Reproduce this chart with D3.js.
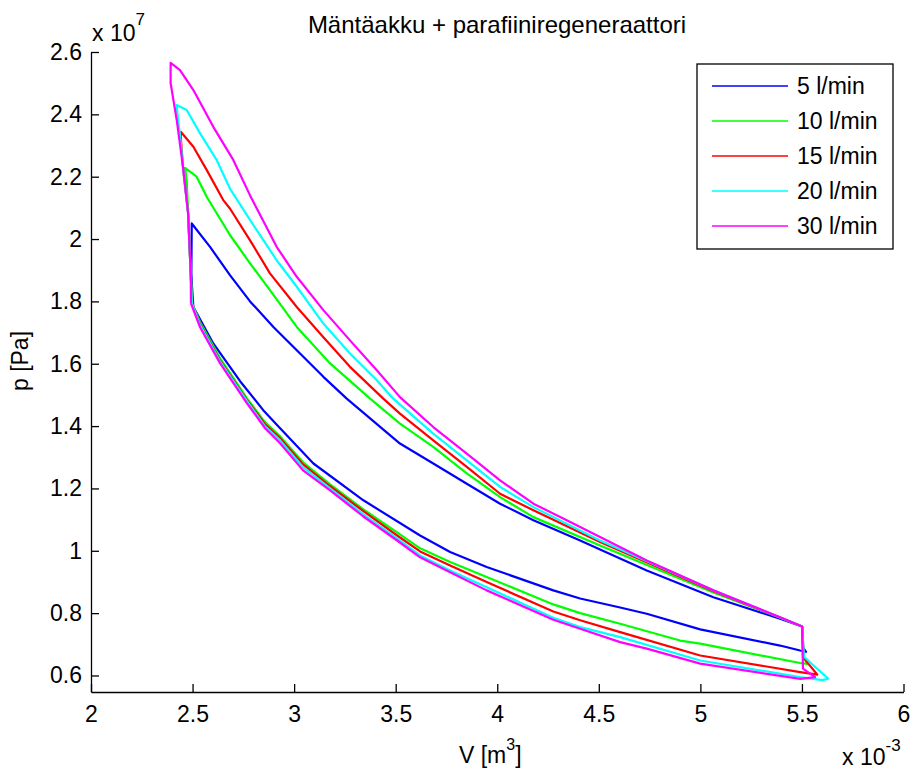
<!DOCTYPE html>
<html lang="fi">
<head>
<meta charset="UTF-8">
<title>Mäntäakku + parafiiniregeneraattori</title>
<script src="https://d3js.org/d3.v7.min.js"></script>
<style>
    body { margin: 0; background: #fff; }
    svg { display: block; font-family: "Liberation Sans", Arial, Helvetica, sans-serif; }
    .axis path, .axis line { stroke: #000; stroke-width: 1.3px; }
    .axis text { font-size: 23px; fill: #000; }
</style>
</head>
<body>
<div id="chart"></div>
<script>

// V [x 10^-3 m^3], p [x 10^7 Pa], each loop
var flow5 = [[2.504,1.782],[2.497,1.85],[2.494,1.890],[2.496,2.050],
    [2.586,1.975],[2.684,1.884],[2.783,1.800],[2.898,1.718],[3.013,1.643],[3.144,1.558],[3.259,1.488],[3.521,1.344],
    [3.685,1.280],[3.850,1.215],[4.014,1.151],[4.178,1.098],[4.408,1.033],[4.506,1.004],[4.736,0.937],[5.064,0.851],
    [5.392,0.782],[5.501,0.757],[5.505,0.690],[5.520,0.676],
    [5.491,0.680],[5.392,0.696],[4.999,0.748],[4.736,0.798],[4.605,0.818],[4.408,0.847],[4.276,0.873],[3.948,0.948],
    [3.768,0.996],[3.620,1.049],[3.341,1.162],[3.095,1.280],[2.931,1.393],[2.848,1.451],[2.734,1.544],[2.602,1.665],[2.504,1.782]];

var flow10 = [[2.497,1.794],[2.491,1.890],[2.478,2.083],[2.471,2.189],[2.463,2.228],
    [2.520,2.200],[2.570,2.135],[2.684,2.013],[2.783,1.922],[2.881,1.836],[3.013,1.718],[3.177,1.601],[3.374,1.488],
    [3.521,1.408],[3.685,1.333],[3.850,1.248],[4.014,1.172],[4.178,1.108],[4.506,1.017],[5.064,0.866],[5.392,0.786],[5.501,0.757],
    [5.505,0.660],[5.530,0.637],
    [5.491,0.640],[4.999,0.702],[4.900,0.712],[4.605,0.766],[4.408,0.800],[4.276,0.828],[3.948,0.916],[3.768,0.964],
    [3.620,1.008],[3.507,1.059],[3.341,1.133],[3.177,1.213],[3.044,1.284],[2.931,1.367],[2.857,1.412],[2.768,1.489],
    [2.635,1.618],[2.537,1.733],[2.497,1.794]];

var flow15 = [[2.497,1.794],[2.491,1.890],[2.478,2.083],[2.453,2.231],[2.443,2.317],[2.442,2.344],
    [2.504,2.296],[2.570,2.221],[2.651,2.125],[2.684,2.098],[2.783,1.996],[2.881,1.890],[3.013,1.782],[3.144,1.685],
    [3.275,1.590],[3.439,1.488],[3.521,1.440],[3.685,1.354],[3.850,1.269],[4.014,1.183],[4.178,1.130],[4.506,1.028],
    [5.064,0.870],[5.392,0.786],[5.501,0.757],
    [5.510,0.655],[5.575,0.603],
    [5.491,0.611],[4.999,0.664],[4.605,0.739],[4.408,0.777],[4.276,0.805],[3.948,0.900],[3.768,0.953],[3.620,0.998],
    [3.507,1.049],[3.341,1.127],[3.177,1.207],[3.044,1.277],[2.931,1.361],[2.857,1.406],[2.768,1.483],[2.635,1.611],
    [2.537,1.727],[2.497,1.794]];

var flow20 = [[2.497,1.794],[2.491,1.890],[2.478,2.083],[2.453,2.231],[2.438,2.334],[2.426,2.398],[2.422,2.430],
    [2.471,2.414],[2.537,2.339],[2.619,2.253],[2.684,2.162],[2.783,2.061],[2.914,1.932],[3.013,1.847],[3.144,1.729],
    [3.275,1.633],[3.407,1.547],[3.488,1.488],[3.685,1.376],[3.850,1.290],[4.014,1.205],[4.178,1.140],[4.506,1.033],
    [5.064,0.873],[5.392,0.786],[5.501,0.757],
    [5.510,0.660],[5.629,0.590],[5.600,0.585],
    [5.491,0.595],[4.999,0.648],[4.605,0.723],[4.408,0.755],[4.276,0.785],[3.948,0.883],[3.768,0.937],[3.620,0.985],
    [3.507,1.040],[3.341,1.117],[3.177,1.200],[3.044,1.268],[2.931,1.354],[2.857,1.399],[2.768,1.480],[2.635,1.608],
    [2.537,1.724],[2.497,1.794]];

var flow30 = [[2.492,1.794],[2.491,1.891],[2.478,2.083],[2.453,2.231],[2.422,2.382],[2.392,2.500],[2.392,2.565],
    [2.438,2.542],[2.504,2.478],[2.602,2.360],[2.701,2.253],[2.783,2.140],[2.914,1.975],[3.013,1.879],[3.144,1.772],
    [3.275,1.675],[3.407,1.579],[3.521,1.493],[3.685,1.397],[3.850,1.312],[4.014,1.226],[4.178,1.151],[4.342,1.098],
    [4.506,1.044],[4.736,0.969],[5.064,0.873],[5.392,0.787],[5.501,0.757],
    [5.505,0.622],[5.565,0.595],
    [5.491,0.589],[4.999,0.638],[4.736,0.686],[4.605,0.707],[4.408,0.750],[4.276,0.779],[3.948,0.873],[3.768,0.931],
    [3.620,0.979],[3.507,1.033],[3.341,1.110],[3.177,1.194],[3.044,1.258],[2.931,1.345],[2.857,1.393],[2.768,1.473],
    [2.635,1.602],[2.537,1.717],[2.492,1.794]];

var seriesNames = ['5 l/min', '10 l/min', '15 l/min', '20 l/min', '30 l/min'];
var seriesColors = ['#0000ff', '#00ff00', '#ff0000', '#00ffff', '#ff00ff'];
var xTicks = [2, 2.5, 3, 3.5, 4, 4.5, 5, 5.5, 6];
var yTicks = [0.6, 0.8, 1, 1.2, 1.4, 1.6, 1.8, 2, 2.2, 2.4, 2.6];

var w = 914, h = 769;
var m = {top: 52, left: 91, bottom: 77, right: 10};

var svg = d3.select('#chart').append('svg')
    .attr('width', w)
    .attr('height', h);

var x = d3.scaleLinear().domain([2, 6]).range([m.left, 903.5]);
var y = d3.scaleLinear().domain([0.547, 2.6]).range([h - m.bottom, m.top]);

// axes, ticks point inwards like matlab
svg.append('g')
    .attr('class', 'axis')
    .attr('transform', 'translate(0,' + (h - m.bottom) + ')')
    .call(d3.axisBottom(x).tickValues(xTicks).tickSizeInner(-8).tickSizeOuter(0).tickPadding(14)
        .tickFormat(d3.format('')));

svg.append('g')
    .attr('class', 'axis')
    .attr('transform', 'translate(' + m.left + ',0)')
    .call(d3.axisLeft(y).tickValues(yTicks).tickSizeInner(-8).tickSizeOuter(0).tickPadding(9)
        .tickFormat(d3.format('')));

// the loops
var line = d3.line()
    .x(function(d) { return x(d[0]); })
    .y(function(d) { return y(d[1]); });

var loops = [flow5, flow10, flow15, flow20, flow30];
svg.append('g').selectAll('path')
    .data(loops)
    .enter().append('path')
    .attr('d', line)
    .attr('fill', 'none')
    .attr('stroke', function(d, i) { return seriesColors[i]; })
    .attr('stroke-width', 2.2)
    .attr('stroke-linejoin', 'round');

// texts
svg.append('text')
    .attr('x', 497).attr('y', 33)
    .attr('text-anchor', 'middle')
    .style('font-size', '24px')
    .text('Mäntäakku + parafiiniregeneraattori');

var yExp = svg.append('text').attr('x', 92).attr('y', 41).style('font-size', '23px');
yExp.append('tspan').text('x 10');
yExp.append('tspan').attr('dy', -16).style('font-size', '17px').text('7');

var xExp = svg.append('text').attr('x', 842).attr('y', 765).style('font-size', '23px');
xExp.append('tspan').text('x 10');
xExp.append('tspan').attr('dy', -14).style('font-size', '17px').text('-3');

var xLab = svg.append('text').attr('x', 459).attr('y', 763).style('font-size', '23px');
xLab.append('tspan').text('V [m');
xLab.append('tspan').attr('dy', -13).style('font-size', '16px').text('3');
xLab.append('tspan').attr('dy', 13).text(']');

svg.append('text')
    .attr('transform', 'translate(28,' + 361 + ') rotate(-90)')
    .attr('text-anchor', 'middle')
    .style('font-size', '23px')
    .text('p [Pa]');

// legend
var legend = svg.append('g').attr('id', 'legend');
legend.append('rect')
    .attr('x', 697).attr('y', 64)
    .attr('width', 196).attr('height', 185)
    .attr('fill', '#fff')
    .attr('stroke', '#000')
    .attr('stroke-width', 1.3);

var item = legend.selectAll('g.item')
    .data(seriesNames)
    .enter().append('g')
    .attr('class', 'item')
    .attr('transform', function(d, i) { return 'translate(0,' + (86 + i * 35) + ')'; });

item.append('line')
    .attr('x1', 712).attr('x2', 788)
    .attr('stroke', function(d, i) { return seriesColors[i]; })
    .attr('stroke-width', 1.5);

item.append('text')
    .attr('x', 797).attr('y', 8)
    .style('font-size', '23px')
    .text(function(d) { return d; });

</script>
</body>
</html>
